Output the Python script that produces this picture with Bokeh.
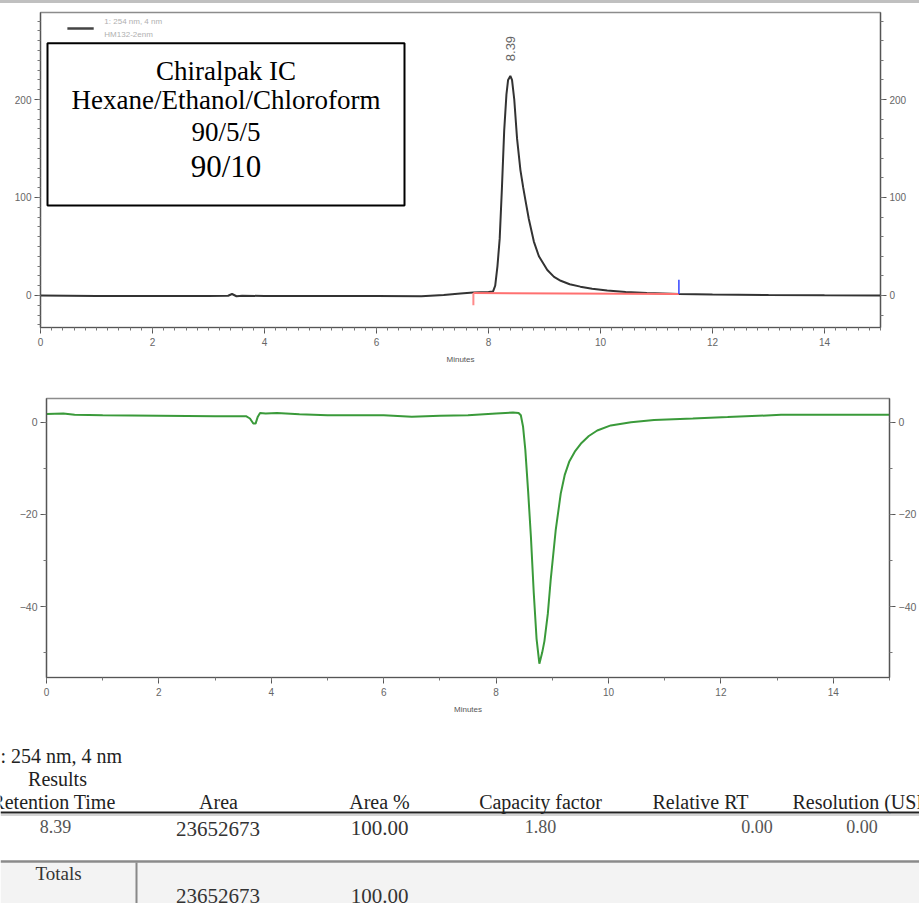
import math
from bokeh.plotting import figure
from bokeh.models import Range1d, LinearAxis, SingleIntervalTicker, Spacer
from bokeh.core.properties import value
from bokeh.embed import file_html
from bokeh.resources import INLINE

# ---------------- data ----------------
# Detector 1: UV 254 nm trace (minutes, mAU)
uv_time = [0, 1, 2, 3, 3.35, 3.42, 3.5, 3.6, 4, 5, 6, 6.8, 7.2, 7.5, 7.73, 8.0,
           8.08, 8.12, 8.16, 8.20, 8.24, 8.28, 8.32, 8.35, 8.39, 8.42, 8.46, 8.51,
           8.57, 8.62, 8.66, 8.72, 8.81, 8.9, 9.05, 9.17, 9.29, 9.45, 9.64, 9.85,
           10.12, 10.45, 10.83, 11.4, 12, 13, 14, 15]
uv_signal = [0, -0.5, -0.5, -0.5, -0.3, 1.5, -0.8, -0.3, -0.5, -0.5, -0.5, -0.8, 0.5, 2.0, 3.0, 3.5,
             4, 10, 30, 58, 110, 168, 205, 220, 224, 220, 200, 160,
             128, 110, 97, 78, 55, 40, 26, 19, 15, 11.5, 9, 6.8,
             5, 3.5, 2.4, 1.5, 1.0, 0.5, 0.2, 0]

# Detector 2 trace (minutes, mdeg)
cd_time = [0, 0.3, 0.5, 1, 2, 3, 3.55, 3.62, 3.68, 3.72, 3.76, 3.8, 3.9, 4.1, 4.5, 5, 6,
           6.5, 7, 7.5, 8, 8.3, 8.4, 8.44, 8.48, 8.52, 8.57, 8.62, 8.67, 8.72, 8.77,
           8.82, 8.86, 8.92, 8.97, 9.06, 9.15, 9.22, 9.3, 9.4, 9.52, 9.65, 9.8, 10.04, 10.4,
           10.81, 11.5, 12.12, 13.07, 14, 15]
cd_signal = [1.8, 1.9, 1.6, 1.5, 1.4, 1.3, 1.3, 0.8, -0.3, -0.3, 1.2, 2.0, 1.9, 2.0, 1.7, 1.5, 1.5,
             1.2, 1.4, 1.5, 1.9, 2.1, 2.0, 1.5, -1.0, -6, -15, -25, -37, -47, -52.4,
             -50, -47.5, -41.6, -34.4, -23.5, -15.5, -11.5, -8.6, -6.4, -4.5, -3.0, -1.8, -0.7, 0,
             0.5, 0.8, 1.1, 1.6, 1.6, 1.6]

# Integration
peak_rt = 8.39
peak_start, peak_end = 7.73, 11.4
base_start_val, base_end_val = 2.5, 1.5
start_mark_low = -10
end_mark_high = 16

# Legend / annotation texts
legend_lines = ["1: 254 nm, 4 nm", "HM132-2enm"]
box_lines = ["Chiralpak IC", "Hexane/Ethanol/Chloroform", "90/5/5", "90/10"]

# Results table
detector_title = "1: 254 nm, 4 nm"
results_title = "Results"
table_headers = ["Retention Time", "Area", "Area %", "Capacity factor", "Relative RT", "Resolution (USP)"]
row_values = [8.39, 23652673, 100.00, 1.80, 0.00, 0.00]
totals_label = "Totals"
total_values = [23652673, 100.00]

# ---------------- styles ----------------
TICK_FONT = "Liberation Sans"
SERIF = "Liberation Serif"


def style_axis(ax, size="10px"):
    ax.axis_line_color = "#555555"
    ax.axis_line_width = 1.2
    ax.major_tick_line_color = "#555555"
    ax.minor_tick_line_color = "#777777"
    ax.major_tick_in = 0
    ax.major_tick_out = 6
    ax.minor_tick_in = 0
    ax.minor_tick_out = 3
    ax.major_label_text_font = TICK_FONT
    ax.major_label_text_font_size = size
    ax.major_label_text_color = "#666666"
    ax.major_label_standoff = 3


def make_chart(height, yr, borders, yint, yminor, rminor):
    left, right, top, bottom = borders
    p = figure(width=919, height=height, x_range=Range1d(0, 15), y_range=Range1d(*yr),
               output_backend="svg", toolbar_location=None,
               min_border_left=left, min_border_right=right,
               min_border_top=top, min_border_bottom=bottom)
    p.xgrid.visible = False
    p.ygrid.visible = False
    p.outline_line_color = "#8c8c8c"
    p.outline_line_width = 1.5
    p.background_fill_color = "white"
    p.border_fill_color = "white"
    p.xaxis.ticker = SingleIntervalTicker(interval=2, num_minor_ticks=10)
    p.yaxis.ticker = SingleIntervalTicker(interval=yint, num_minor_ticks=yminor)
    p.add_layout(LinearAxis(ticker=SingleIntervalTicker(interval=yint, num_minor_ticks=rminor)), "right")
    for ax in p.xaxis + p.yaxis:
        style_axis(ax)
    p.xaxis.major_label_standoff = 4
    p.xaxis.axis_label = "Minutes"
    p.xaxis.axis_label_text_font = TICK_FONT
    p.xaxis.axis_label_text_font_size = "8px"
    p.xaxis.axis_label_text_font_style = "normal"
    p.xaxis.axis_label_text_color = "#555555"
    p.xaxis.axis_label_standoff = 6
    return p


# ---------------- top chromatogram ----------------
p1 = make_chart(372, (-32.7, 288.8), (40, 39, 9, 48), 100, 10, 5)
p1.line(uv_time, uv_signal, line_color="#333333", line_width=2)
p1.line([peak_start, peak_end], [base_start_val, base_end_val], line_color="#ff7070", line_width=2)
p1.line([peak_start, peak_start], [base_start_val, start_mark_low], line_color="#ff8a8a", line_width=2)
p1.line([peak_end, peak_end], [base_end_val, end_mark_high], line_color="#3344ff", line_width=1.5)
p1.text(x=[peak_rt], y=[max(uv_signal) + 28], text=["8.39"], angle=math.pi / 2,
        text_align="center", text_baseline="middle", text_font=value(TICK_FONT),
        text_font_size="13px", text_color="#666666")

# legend
p1.line([0.48, 0.95], [272.4, 272.4], line_color="#444444", line_width=2.5)
p1.text(x=[1.14, 1.14], y=[279.6, 266.3], text=legend_lines, text_align="left",
        text_baseline="middle", text_font=value(TICK_FONT), text_font_size="8px",
        text_color="#b0b0b0")

# annotation box
p1.quad(left=0.125, right=6.5, top=257.4, bottom=91.8, fill_color="white",
        line_color="black", line_width=2)
box_cx = (0.125 + 6.5) / 2
box_y = [229.6, 200.0, 167.3, 131.6]
box_sizes = ["27px", "27px", "27px", "31px"]
for t, yy, fs in zip(box_lines, box_y, box_sizes):
    p1.text(x=[box_cx], y=[yy], text=[t], text_align="center", text_baseline="middle",
            text_font=value(SERIF), text_font_size=fs, text_color="black")

# ---------------- bottom chromatogram ----------------
p2 = make_chart(350, (-55.4, 5.14), (46, 30, 23, 48), 20, 2, 2)
p2.xaxis.ticker = SingleIntervalTicker(interval=2, num_minor_ticks=2)
for ax in p2.yaxis:
    ax.major_label_text_font_size = "10.5px"
p2.line(cd_time, cd_signal, line_color="#3a9a3a", line_width=2)

# ---------------- results table ----------------
p3 = figure(width=919, height=178, x_range=Range1d(0, 919), y_range=Range1d(903, 725),
            output_backend="svg", toolbar_location=None,
            min_border_left=0, min_border_right=0, min_border_top=0, min_border_bottom=0)
p3.axis.visible = False
p3.xgrid.visible = False
p3.ygrid.visible = False
p3.outline_line_color = None
p3.border_fill_color = "white"

p3.quad(left=0, right=919, top=862, bottom=903, fill_color="#f3f3f3", line_color=None)
p3.line([0, 919], [812, 812], line_color="#222222", line_width=2)
p3.line([0, 919], [814.5, 814.5], line_color="#aaaaaa", line_width=1)
p3.line([0, 919], [861, 861], line_color="#8a8a8a", line_width=2.5)
p3.line([136, 136], [862, 903], line_color="#888888", line_width=2)

serif = value(SERIF)
p3.text(x=[-10], y=[755], text=[detector_title], text_align="left", text_baseline="middle",
        text_font=serif, text_font_size="20px", text_color="#222222")
p3.text(x=[57], y=[778], text=[results_title], text_align="center", text_baseline="middle",
        text_font=serif, text_font_size="20px", text_color="#222222")

header_x = [53, 218, 379, 540, 700, 792]
header_align = ["center", "center", "center", "center", "center", "left"]
for h, hx, ha in zip(table_headers, header_x, header_align):
    p3.text(x=[hx], y=[801.5], text=[h], text_align=ha, text_baseline="middle",
            text_font=serif, text_font_size="20px", text_color="#222222")

value_text = [f"{row_values[0]:.2f}", f"{row_values[1]:d}", f"{row_values[2]:.2f}",
              f"{row_values[3]:.2f}", f"{row_values[4]:.2f}", f"{row_values[5]:.2f}"]
value_x = [55, 217.5, 379, 540, 756.5, 861.5]
value_y = [826, 828, 827, 825.5, 826, 826]
value_size = ["18px", "21px", "21px", "18px", "18px", "18px"]
value_color = ["#555555", "#333333", "#333333", "#555555", "#555555", "#555555"]
for t, vx, vy, vs, vc in zip(value_text, value_x, value_y, value_size, value_color):
    p3.text(x=[vx], y=[vy], text=[t], text_align="center", text_baseline="middle",
            text_font=serif, text_font_size=vs, text_color=vc)

p3.text(x=[58], y=[873], text=[totals_label], text_align="center", text_baseline="middle",
        text_font=serif, text_font_size="19px", text_color="#333333")
total_text = [f"{total_values[0]:d}", f"{total_values[1]:.2f}"]
for t, tx in zip(total_text, [217.5, 379]):
    p3.text(x=[tx], y=[895], text=[t], text_align="center", text_baseline="middle",
            text_font=serif, text_font_size="21px", text_color="#333333")

top_bar = Spacer(width=919, height=3, styles={"background-color": "#c0c0c0"})

open("out.html", "w").write(file_html([top_bar, p1, p2, p3], INLINE))
